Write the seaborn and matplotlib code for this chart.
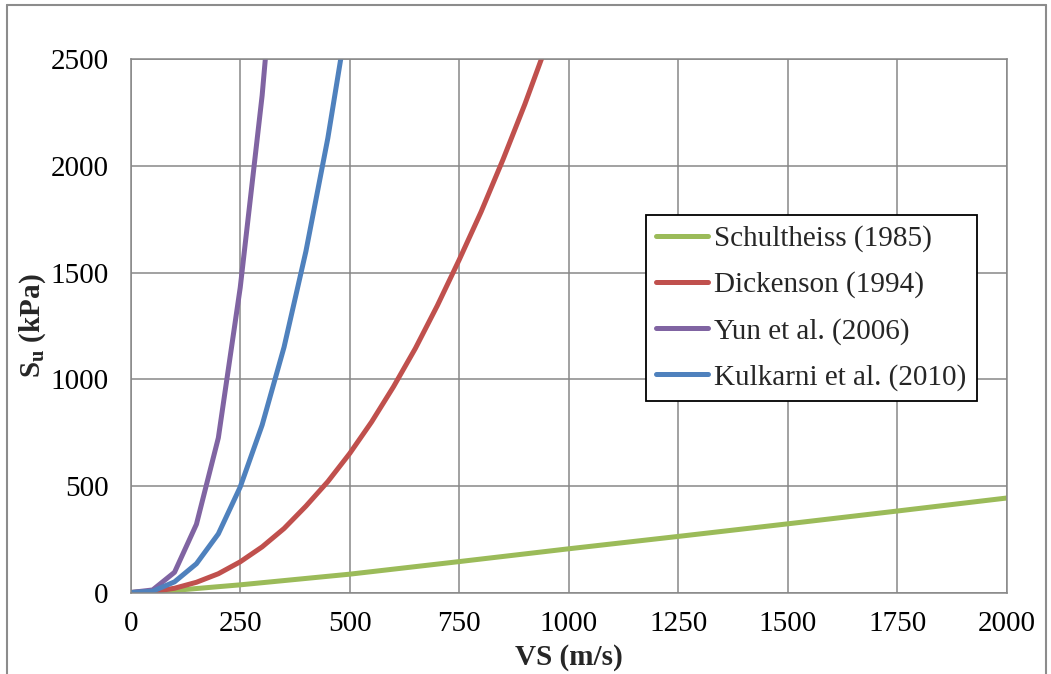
import pandas as pd
import matplotlib.pyplot as plt
import seaborn as sns
from matplotlib.lines import Line2D

# values (VS in m/s, Su in kPa)
vs_schultheiss = [0, 50, 100, 250, 500, 750, 1000, 1250, 1500, 1750, 2000]
su_schultheiss = [0, 4, 10, 36, 86, 145, 205, 263, 322, 382, 443]

vs_dickenson = [0, 50, 100, 150, 200, 250, 300, 350, 400, 450, 500,
                550, 600, 650, 700, 750, 800, 850, 900, 950, 1000]
su_dickenson = [0, 4, 20, 48, 88, 144, 214, 300, 405, 520, 652,
                800, 965, 1145, 1345, 1560, 1785, 2030, 2290, 2570, 2870]

vs_yun = [0, 50, 100, 150, 200, 250, 300, 350]
su_yun = [0, 12, 95, 320, 725, 1430, 2330, 3500]

vs_kulkarni = [0, 50, 100, 150, 200, 250, 300, 350, 400, 450, 500]
su_kulkarni = [0, 6, 50, 135, 275, 495, 785, 1150, 1600, 2130, 2760]

names = ['Schultheiss (1985)', 'Dickenson (1994)', 'Yun et al. (2006)', 'Kulkarni et al. (2010)']
colors = {'Schultheiss (1985)': '#9BBB59', 'Dickenson (1994)': '#C0504D',
          'Yun et al. (2006)': '#8064A2', 'Kulkarni et al. (2010)': '#4F81BD'}

frames = []
for name, vs, su in zip(names,
                        [vs_schultheiss, vs_dickenson, vs_yun, vs_kulkarni],
                        [su_schultheiss, su_dickenson, su_yun, su_kulkarni]):
    frames.append(pd.DataFrame({'VS': vs, 'Su': su, 'model': name}))
df = pd.concat(frames, ignore_index=True)

sns.set_style("white")
plt.rcParams['font.family'] = ['Liberation Serif', 'DejaVu Serif']
plt.rcParams['mathtext.fontset'] = 'custom'
plt.rcParams['mathtext.rm'] = 'Liberation Serif'
plt.rcParams['mathtext.bf'] = 'Liberation Serif:bold'

fig = plt.figure(figsize=(10.51, 6.74), dpi=100)
ax = fig.add_axes([0.1244, 0.1209, 0.9578 - 0.1244, 0.912 - 0.1209])

sns.lineplot(data=df, x='VS', y='Su', hue='model', hue_order=names,
             palette=colors, linewidth=3.6, ax=ax, legend=False, sort=False)

ax.set_xlim(0, 2000)
ax.set_ylim(0, 2500)
ax.set_xticks(range(0, 2001, 250))
ax.set_yticks(range(0, 2501, 500))
ax.grid(True, color='#878787', linewidth=1.1)
ax.set_axisbelow(True)
for spine in ax.spines.values():
    spine.set_color('#878787')
    spine.set_linewidth(1.1)
ax.tick_params(length=0, labelsize=21, colors='black')
ax.tick_params(axis='y', pad=16)
ax.tick_params(axis='x', pad=13)

ax.set_xlabel('VS (m/s)', fontsize=21, fontweight='bold')
ax.set_ylabel(r'$\mathbf{S_u}$ (kPa)', fontsize=21, fontweight='bold')
ax.xaxis.set_label_coords(0.5, -0.097)
ax.yaxis.set_label_coords(-0.095, 0.5)

handles = [Line2D([0], [0], color=colors[n], linewidth=3.6, solid_capstyle='round') for n in names]
leg = ax.legend(handles, names, loc='upper left', bbox_to_anchor=(0.588, 0.708),
                borderaxespad=0, fontsize=21, handlelength=1.8, handletextpad=0.2,
                borderpad=0.35, labelspacing=0.66, fancybox=False, framealpha=1)
leg.get_frame().set_edgecolor('black')
leg.get_frame().set_linewidth(1.3)

# thin gray frame around the whole chart area
fx0, fx1, fy1 = 7 / 1051, 1046 / 1051, 1 - 5 / 674
fig.add_artist(Line2D([fx0, fx0], [0, fy1], color='#8c8c8c', linewidth=1.5, transform=fig.transFigure))
fig.add_artist(Line2D([fx0, fx1], [fy1, fy1], color='#8c8c8c', linewidth=1.5, transform=fig.transFigure))
fig.add_artist(Line2D([fx1, fx1], [0, fy1], color='#8c8c8c', linewidth=1.5, transform=fig.transFigure))

fig.savefig('out.png', dpi=100)
